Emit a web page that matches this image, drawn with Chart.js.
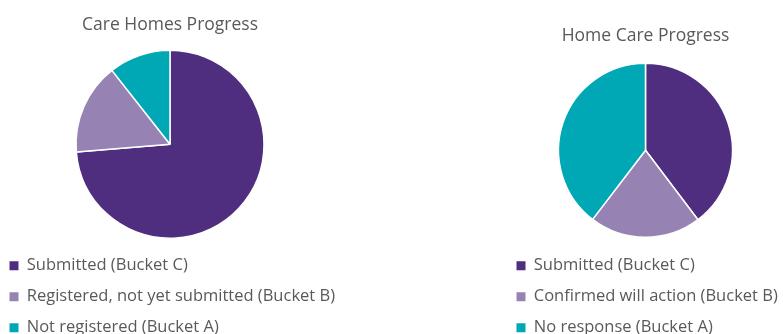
<!DOCTYPE html>
<html>
<head>
<meta charset="utf-8">
<script src="https://cdn.jsdelivr.net/npm/chart.js@4"></script>
<style>
  html, body { margin: 0; padding: 0; background: #fff; overflow: hidden; width: 783px; height: 334px; }
  .box { position: absolute; top: 0; }
  #careHomesBox { left: -5px; }
  #homeCareBox { left: 502px; }
</style>
</head>
<body>
<div class="box" id="careHomesBox"><canvas id="careHomesChart" width="350" height="346"></canvas></div>
<div class="box" id="homeCareBox"><canvas id="homeCareChart" width="287" height="346"></canvas></div>
<script>
// values (share of each pie, %)
var careHomesLabels = ['Submitted (Bucket C)', 'Registered, not yet submitted (Bucket B)', 'Not registered (Bucket A)'];
var careHomesValues = [73.7, 15.7, 10.6];

var homeCareLabels = ['Submitted (Bucket C)', 'Confirmed will action (Bucket B)', 'No response (Bucket A)'];
var homeCareValues = [39.7, 20.7, 39.6];

var sliceColours = ['#4f2d7f', '#9682b3', '#00a7b5'];

var textColour = '#595959';
var fontFamily = '"Open Sans", Lato, sans-serif';

function makePie(canvasId, titleText, labels, values, radius, titlePadding) {
    var ctx = document.getElementById(canvasId).getContext('2d');
    return new Chart(ctx, {
        type: 'pie',
        data: {
            labels: labels,
            datasets: [{
                data: values,
                backgroundColor: sliceColours,
                borderColor: '#ffffff',
                borderWidth: 1.5,
                radius: radius
            }]
        },
        options: {
            responsive: false,
            animation: false,
            devicePixelRatio: 1,
            plugins: {
                tooltip: { enabled: false },
                title: {
                    display: true,
                    text: titleText,
                    color: textColour,
                    font: { family: fontFamily, size: 17.5, weight: 'normal', lineHeight: 1.2 },
                    padding: titlePadding
                },
                legend: {
                    position: 'bottom',
                    align: 'start',
                    labels: {
                        boxWidth: 9,
                        boxHeight: 9,
                        padding: 14.5,
                        color: textColour,
                        font: { family: fontFamily, size: 16.5 },
                        generateLabels: function (chart) {
                            var items = Chart.controllers.pie.overrides.plugins.legend.labels.generateLabels(chart);
                            items.forEach(function (item) {
                                item.lineWidth = 0;
                                item.strokeStyle = 'rgba(0,0,0,0)';
                            });
                            return items;
                        }
                    }
                }
            }
        }
    });
}

makePie('careHomesChart', 'Care Homes Progress', careHomesLabels, careHomesValues, 94, { top: 14.5, bottom: 10.1 });
makePie('homeCareChart', 'Home Care Progress', homeCareLabels, homeCareValues, 87, { top: 25.5, bottom: 11.1 });
</script>
</body>
</html>
